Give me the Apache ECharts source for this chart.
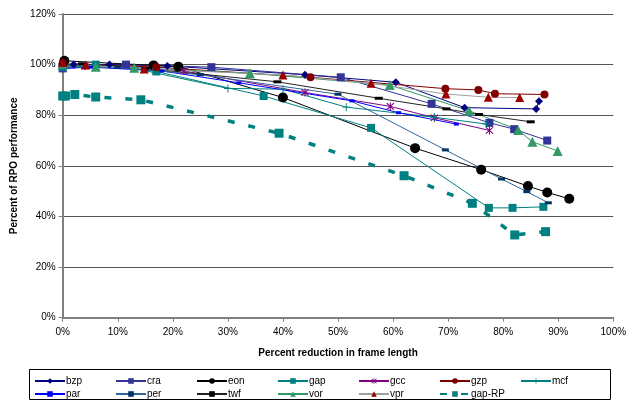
<!DOCTYPE html>
<html>
<head>
<meta charset="utf-8">
<script src="https://cdn.jsdelivr.net/npm/echarts@6/dist/echarts.min.js"></script>
<style>
  html, body { margin: 0; padding: 0; background: #fff; }
  #chart { width: 634px; height: 403px; }
</style>
</head>
<body>
<div id="chart"></div>
<script>
// Relative performance vs. frame-length reduction, one [x%, y%] list per benchmark
const bzp   = [[0,99.5],[2,100],[8.5,100],[19,99.5],[44,96],[60.5,93],[73,83],[86,82.5],[86.5,85.5]];
const cra   = [[0,98.5],[11.5,100],[27,99],[50.5,95],[67,84.5],[77.5,77],[82,74.5],[88,70]];
const eon   = [[0.3,101.5],[16.5,99.7],[21,99.2],[40,87],[64,67],[76,58.5],[84.5,52],[88,49.5],[92,47]];
const gap   = [[0,99],[6,100],[17,97.3],[36.5,87.6],[56,75],[77.4,43.4],[81.7,43.4],[87.3,43.8]];
const gcc   = [[0,100],[4,99.5],[22,97.5],[44,89],[59.5,83.5],[67.5,79],[77.5,74]];
const gzp   = [[0,100.5],[17,99],[45,95],[69.5,90.5],[75.5,90],[78.5,88.5],[87.5,88.2]];
const mcf   = [[0,99.5],[13,98.5],[30,90.6],[40,90.3],[51.5,83.2],[67.5,79.2],[77,76.5]];
const par   = [[0,98.5],[5,99],[18,97.5],[32,92.8],[52.5,85.7],[61,81],[71.5,76.5]];
const per   = [[0,99],[10,99],[25,96],[50,88.3],[69.5,66.3],[79.7,54.8],[84.3,49.8],[88.2,45.4]];
const twf   = [[0,100],[3.5,100.3],[15,98.5],[39,93.2],[57.4,86.7],[69.7,82.5],[75.6,80.3],[85,77.4]];
const vor   = [[0,100],[6,99.2],[13,98.8],[34,96.6],[59.4,91.9],[73.8,81.8],[82.7,74.2],[85.3,69.5],[89.9,65.9]];
const vpr   = [[0,100.8],[4.2,99.8],[14.8,98.3],[40,95.9],[56,92.6],[69.6,88.4],[77.3,87.1],[83,87]];
const gapRP = [[0,87.6],[0.5,87.6],[2.2,88.2],[6,87.2],[14.2,86.1],[39.3,72.9],[62,56.1],[74.4,45.2],[82.1,32.7],[87.7,34]];

const xTicks = { min: 0, max: 100, step: 10 };
const yTicks = { min: 0, max: 120, step: 20 };
const legendRows = [
  ['bzp', 'cra', 'eon', 'gap', 'gcc', 'gzp', 'mcf'],
  ['par', 'per', 'twf', 'vor', 'vpr', 'gap-RP']
];

// marker shapes not built into ECharts
const ASTERISK = 'path://M4.4,0L5.6,0L5.6,10L4.4,10Z M0.6,1.5L1.5,0.6L9.4,8.5L8.5,9.4Z M8.5,0.6L9.4,1.5L1.5,9.4L0.6,8.5Z';
const PLUS = 'path://M4.4,0L5.6,0L5.6,10L4.4,10Z M0,4.4L10,4.4L10,5.6L0,5.6Z';

const FONT = 'Arial, "Liberation Sans", Helvetica, sans-serif';

function line(name, data, lineColor, symbol, symbolSize, markColor, extra) {
  return Object.assign({
    name: name,
    type: 'line',
    data: data,
    symbol: symbol,
    symbolSize: symbolSize,
    showAllSymbol: true,
    animation: false,
    lineStyle: { color: lineColor, width: 1 },
    itemStyle: { color: markColor || lineColor, borderWidth: 0 },
    emphasis: { disabled: true }
  }, extra || {});
}

const series = [
  line('bzp', bzp, '#000080', 'diamond', 8),
  line('cra', cra, '#333399', 'rect', 8),
  line('eon', eon, '#000000', 'circle', 10),
  line('gap', gap, '#008080', 'rect', 8),
  line('gcc', gcc, '#800080', ASTERISK, 8),
  line('gzp', gzp, '#800000', 'circle', 8),
  line('mcf', mcf, '#008080', PLUS, 8),
  line('par', par, '#0000FF', 'rect', [5, 3]),
  line('per', per, '#336699', 'rect', [7, 3], '#003366'),
  line('twf', twf, '#222222', 'rect', [8, 3], '#000000'),
  line('vor', vor, '#339966', 'triangle', 10),
  line('vpr', vpr, '#A0A0A0', 'triangle', 9, '#990000'),
  line('gap-RP', gapRP, '#008080', 'rect', 9, '#008080', {
    lineStyle: { color: '#008080', width: 3.5, type: [7, 14] }
  })
];

// one legend block per entry so that the columns line up
const colX = [34, 115, 196, 277, 358, 439, 520];
const rowY = [376, 389];
const legends = [];
legendRows.forEach((row, r) => {
  row.forEach((name, c) => {
    legends.push({
      data: [name],
      left: colX[c],
      top: rowY[r],
      orient: 'horizontal',
      padding: 0,
      itemWidth: 30,
      itemHeight: 7,
      itemGap: 0,
      selectedMode: false,
      textStyle: { fontFamily: FONT, fontSize: 10, color: '#000', padding: [0, 0, 0, -4] }
    });
  });
});

const chart = echarts.init(document.getElementById('chart'), null, { renderer: 'canvas' });
chart.setOption({
  backgroundColor: '#ffffff',
  animation: false,
  grid: { left: 62.7, right: 20.7, top: 14, bottom: 85.3, containLabel: false },
  xAxis: {
    type: 'value',
    min: xTicks.min, max: xTicks.max, interval: xTicks.step,
    name: 'Percent reduction in frame length',
    nameLocation: 'middle',
    nameGap: 31,
    nameTextStyle: { fontFamily: FONT, fontSize: 10, fontWeight: 'bold', color: '#000' },
    axisLine: { show: true, lineStyle: { color: '#808080', width: 2 } },
    axisTick: { show: true, length: 4, lineStyle: { color: '#808080', width: 1 } },
    axisLabel: { fontFamily: FONT, fontSize: 10, color: '#000', margin: 10, formatter: '{value}%' },
    splitLine: { show: false }
  },
  yAxis: {
    type: 'value',
    min: yTicks.min, max: yTicks.max, interval: yTicks.step,
    name: 'Percent of RPO performance',
    nameLocation: 'middle',
    nameGap: 38,
    nameTextStyle: { fontFamily: FONT, fontSize: 10, fontWeight: 'bold', color: '#000' },
    axisLine: { show: true, lineStyle: { color: '#808080', width: 2 } },
    axisTick: { show: true, length: 4, lineStyle: { color: '#808080', width: 1 } },
    axisLabel: { fontFamily: FONT, fontSize: 10, color: '#000', margin: 7, formatter: '{value}%' },
    splitLine: { show: true, lineStyle: { color: '#555555', width: 1 } }
  },
  legend: legends,
  graphic: [{
    type: 'rect',
    shape: { x: 29.5, y: 369.5, width: 581, height: 30 },
    style: { fill: 'none', stroke: '#000', lineWidth: 1 },
    silent: true
  }],
  series: series
});
</script>
</body>
</html>
